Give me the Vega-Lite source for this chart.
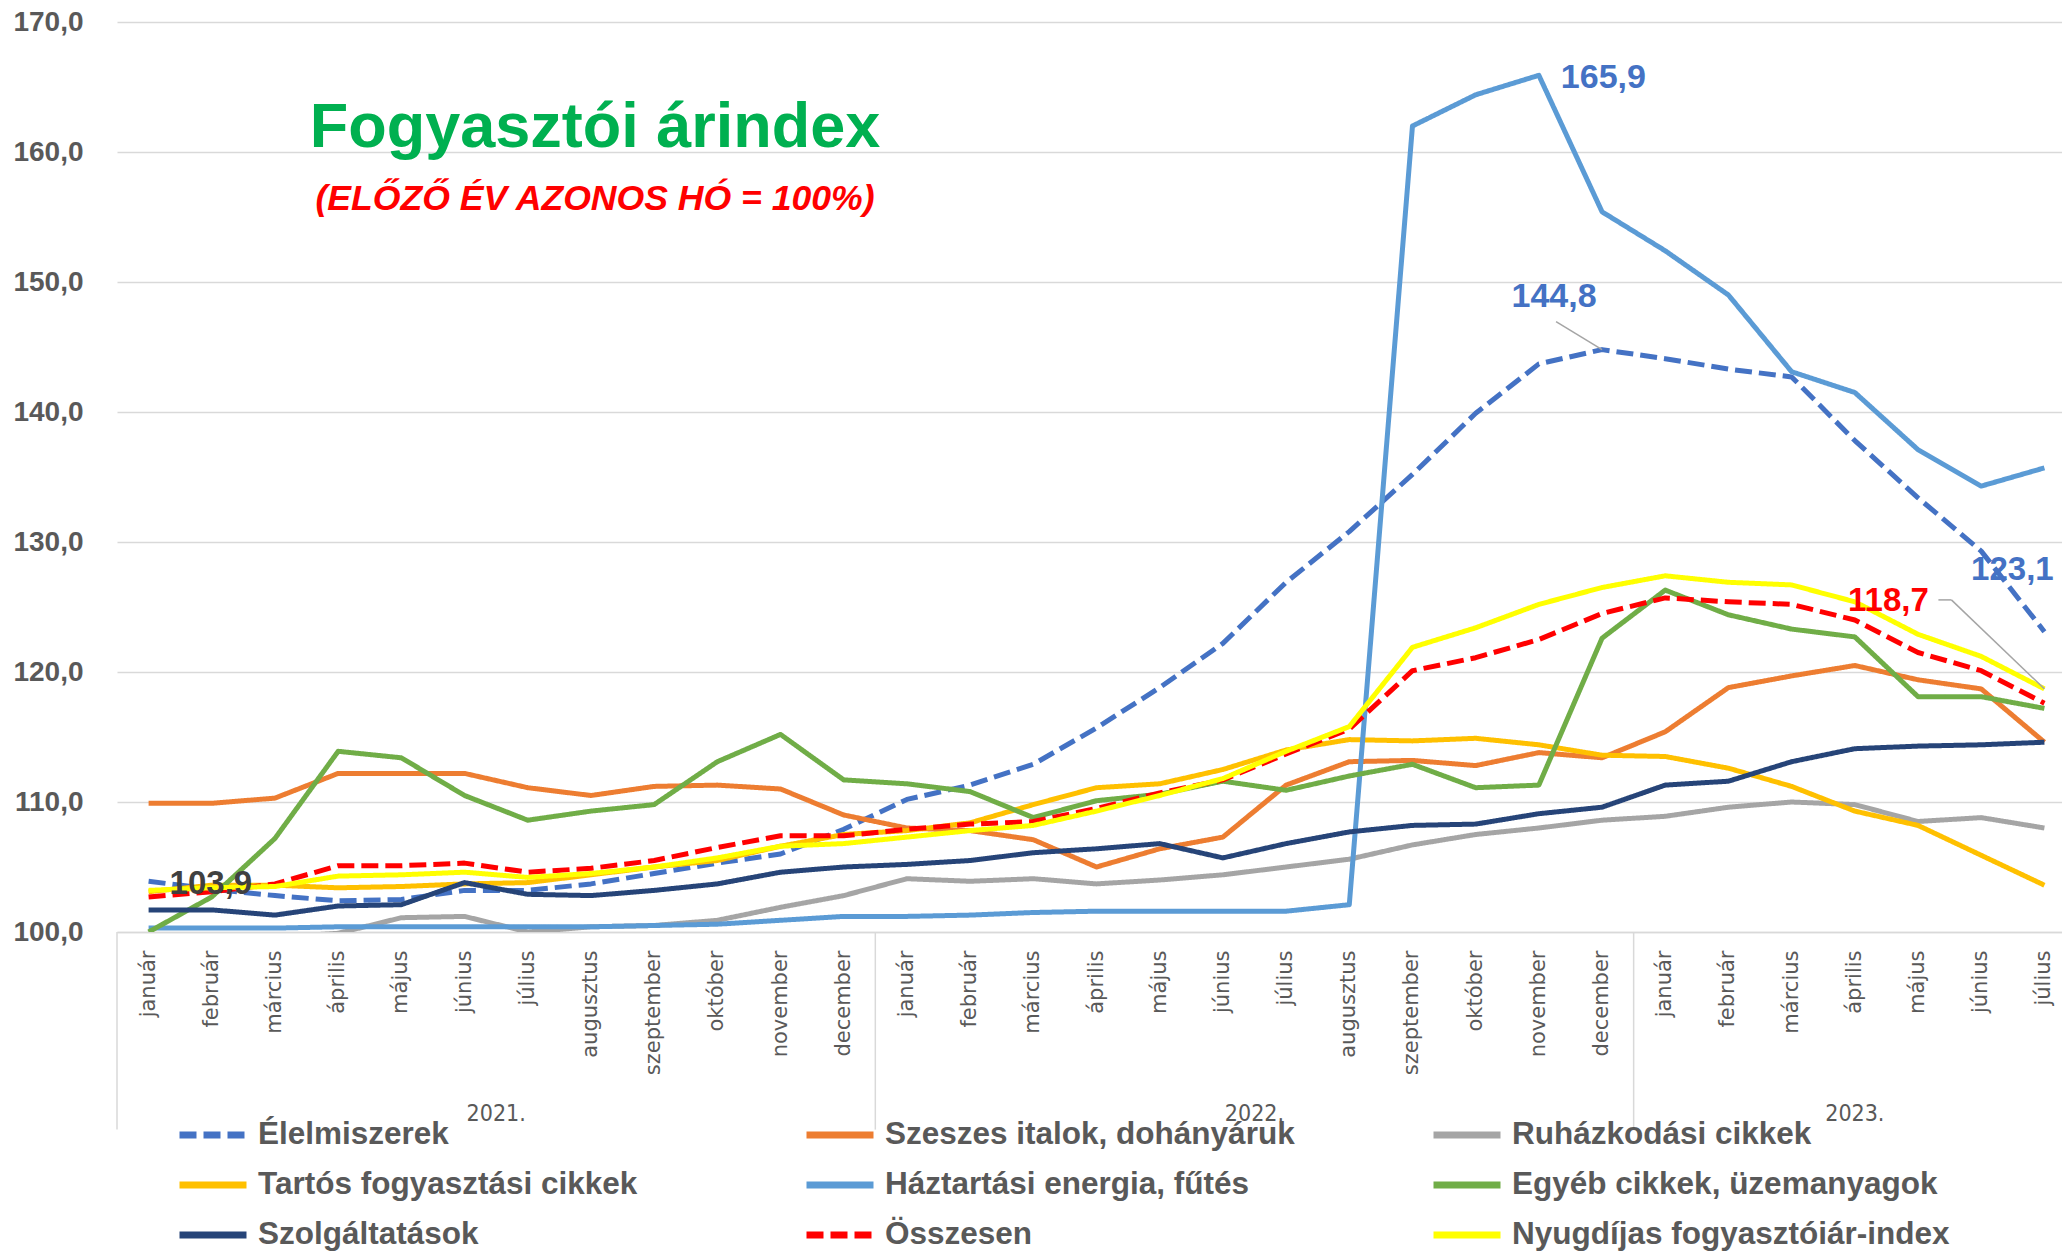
{
  "$schema": "https://vega.github.io/schema/vega-lite/v6.json",
  "width": 1945,
  "height": 910,
  "autosize": {"type": "none"},
  "padding": {"left": 117, "top": 22, "right": 0, "bottom": 321},
  "background": "white",
  "config": {
    "locale": {"number": {"decimal": ",", "thousands": " ", "grouping": [3], "currency": ["", ""]}},
    "view": {"stroke": null},
    "font": "Liberation Sans"
  },
  "title": {
    "text": "Fogyasztói árindex",
    "subtitle": "(ELŐZŐ ÉV AZONOS HÓ = 100%)",
    "orient": "top",
    "anchor": "start",
    "frame": "group",
    "align": "center",
    "dx": 478,
    "offset": -210,
    "font": "Liberation Sans",
    "fontSize": 63,
    "fontWeight": "bold",
    "color": "#00B050",
    "subtitleFont": "Liberation Sans",
    "subtitleFontSize": 35.6,
    "subtitleFontWeight": "bold",
    "subtitleFontStyle": "italic",
    "subtitleColor": "#FF0000",
    "subtitlePadding": 22
  },
  "datasets": {
    "cpi": [
      {"m": "2021-01", "Élelmiszerek": 103.9, "Szeszes italok, dohányáruk": 109.9, "Ruházkodási cikkek": 99.4, "Tartós fogyasztási cikkek": 103.1, "Háztartási energia, fűtés": 100.3, "Egyéb cikkek, üzemanyagok": 100.0, "Szolgáltatások": 101.7, "Összesen": 102.7, "Nyugdíjas fogyasztóiár-index": 103.2},
      {"m": "2021-02", "Élelmiszerek": 103.3, "Szeszes italok, dohányáruk": 109.9, "Ruházkodási cikkek": 99.5, "Tartós fogyasztási cikkek": 103.6, "Háztartási energia, fűtés": 100.3, "Egyéb cikkek, üzemanyagok": 102.7, "Szolgáltatások": 101.7, "Összesen": 103.1, "Nyugdíjas fogyasztóiár-index": 103.4},
      {"m": "2021-03", "Élelmiszerek": 102.8, "Szeszes italok, dohányáruk": 110.3, "Ruházkodási cikkek": 99.6, "Tartós fogyasztási cikkek": 103.6, "Háztartási energia, fűtés": 100.3, "Egyéb cikkek, üzemanyagok": 107.2, "Szolgáltatások": 101.3, "Összesen": 103.7, "Nyugdíjas fogyasztóiár-index": 103.5},
      {"m": "2021-04", "Élelmiszerek": 102.4, "Szeszes italok, dohányáruk": 112.2, "Ruházkodási cikkek": 99.9, "Tartós fogyasztási cikkek": 103.4, "Háztartási energia, fűtés": 100.4, "Egyéb cikkek, üzemanyagok": 113.9, "Szolgáltatások": 102.0, "Összesen": 105.1, "Nyugdíjas fogyasztóiár-index": 104.3},
      {"m": "2021-05", "Élelmiszerek": 102.5, "Szeszes italok, dohányáruk": 112.2, "Ruházkodási cikkek": 101.1, "Tartós fogyasztási cikkek": 103.5, "Háztartási energia, fűtés": 100.4, "Egyéb cikkek, üzemanyagok": 113.4, "Szolgáltatások": 102.1, "Összesen": 105.1, "Nyugdíjas fogyasztóiár-index": 104.4},
      {"m": "2021-06", "Élelmiszerek": 103.2, "Szeszes italok, dohányáruk": 112.2, "Ruházkodási cikkek": 101.2, "Tartós fogyasztási cikkek": 103.7, "Háztartási energia, fűtés": 100.4, "Egyéb cikkek, üzemanyagok": 110.5, "Szolgáltatások": 103.8, "Összesen": 105.3, "Nyugdíjas fogyasztóiár-index": 104.6},
      {"m": "2021-07", "Élelmiszerek": 103.2, "Szeszes italok, dohányáruk": 111.1, "Ruházkodási cikkek": 100.0, "Tartós fogyasztási cikkek": 103.8, "Háztartási energia, fűtés": 100.4, "Egyéb cikkek, üzemanyagok": 108.6, "Szolgáltatások": 102.9, "Összesen": 104.6, "Nyugdíjas fogyasztóiár-index": 104.2},
      {"m": "2021-08", "Élelmiszerek": 103.7, "Szeszes italok, dohányáruk": 110.5, "Ruházkodási cikkek": 100.4, "Tartós fogyasztási cikkek": 104.4, "Háztartási energia, fűtés": 100.4, "Egyéb cikkek, üzemanyagok": 109.3, "Szolgáltatások": 102.8, "Összesen": 104.9, "Nyugdíjas fogyasztóiár-index": 104.5},
      {"m": "2021-09", "Élelmiszerek": 104.5, "Szeszes italok, dohányáruk": 111.2, "Ruházkodási cikkek": 100.5, "Tartós fogyasztási cikkek": 105.0, "Háztartási energia, fűtés": 100.5, "Egyéb cikkek, üzemanyagok": 109.8, "Szolgáltatások": 103.2, "Összesen": 105.5, "Nyugdíjas fogyasztóiár-index": 105.0},
      {"m": "2021-10", "Élelmiszerek": 105.3, "Szeszes italok, dohányáruk": 111.3, "Ruházkodási cikkek": 100.9, "Tartós fogyasztási cikkek": 105.5, "Háztartási energia, fűtés": 100.6, "Egyéb cikkek, üzemanyagok": 113.1, "Szolgáltatások": 103.7, "Összesen": 106.5, "Nyugdíjas fogyasztóiár-index": 105.7},
      {"m": "2021-11", "Élelmiszerek": 106.0, "Szeszes italok, dohányáruk": 111.0, "Ruházkodási cikkek": 101.9, "Tartós fogyasztási cikkek": 106.6, "Háztartási energia, fűtés": 100.9, "Egyéb cikkek, üzemanyagok": 115.2, "Szolgáltatások": 104.6, "Összesen": 107.4, "Nyugdíjas fogyasztóiár-index": 106.6},
      {"m": "2021-12", "Élelmiszerek": 107.9, "Szeszes italok, dohányáruk": 109.0, "Ruházkodási cikkek": 102.8, "Tartós fogyasztási cikkek": 107.5, "Háztartási energia, fűtés": 101.2, "Egyéb cikkek, üzemanyagok": 111.7, "Szolgáltatások": 105.0, "Összesen": 107.4, "Nyugdíjas fogyasztóiár-index": 106.8},
      {"m": "2022-01", "Élelmiszerek": 110.2, "Szeszes italok, dohányáruk": 108.0, "Ruházkodási cikkek": 104.1, "Tartós fogyasztási cikkek": 107.8, "Háztartási energia, fűtés": 101.2, "Egyéb cikkek, üzemanyagok": 111.4, "Szolgáltatások": 105.2, "Összesen": 107.9, "Nyugdíjas fogyasztóiár-index": 107.3},
      {"m": "2022-02", "Élelmiszerek": 111.3, "Szeszes italok, dohányáruk": 107.8, "Ruházkodási cikkek": 103.9, "Tartós fogyasztási cikkek": 108.4, "Háztartási energia, fűtés": 101.3, "Egyéb cikkek, üzemanyagok": 110.8, "Szolgáltatások": 105.5, "Összesen": 108.3, "Nyugdíjas fogyasztóiár-index": 107.8},
      {"m": "2022-03", "Élelmiszerek": 112.9, "Szeszes italok, dohányáruk": 107.1, "Ruházkodási cikkek": 104.1, "Tartós fogyasztási cikkek": 109.8, "Háztartási energia, fűtés": 101.5, "Egyéb cikkek, üzemanyagok": 108.8, "Szolgáltatások": 106.1, "Összesen": 108.5, "Nyugdíjas fogyasztóiár-index": 108.2},
      {"m": "2022-04", "Élelmiszerek": 115.7, "Szeszes italok, dohányáruk": 105.0, "Ruházkodási cikkek": 103.7, "Tartós fogyasztási cikkek": 111.1, "Háztartási energia, fűtés": 101.6, "Egyéb cikkek, üzemanyagok": 110.1, "Szolgáltatások": 106.4, "Összesen": 109.5, "Nyugdíjas fogyasztóiár-index": 109.3},
      {"m": "2022-05", "Élelmiszerek": 118.8, "Szeszes italok, dohányáruk": 106.4, "Ruházkodási cikkek": 104.0, "Tartós fogyasztási cikkek": 111.4, "Háztartási energia, fűtés": 101.6, "Egyéb cikkek, üzemanyagok": 110.6, "Szolgáltatások": 106.8, "Összesen": 110.7, "Nyugdíjas fogyasztóiár-index": 110.5},
      {"m": "2022-06", "Élelmiszerek": 122.2, "Szeszes italok, dohányáruk": 107.3, "Ruházkodási cikkek": 104.4, "Tartós fogyasztási cikkek": 112.5, "Háztartási energia, fűtés": 101.6, "Egyéb cikkek, üzemanyagok": 111.6, "Szolgáltatások": 105.7, "Összesen": 111.7, "Nyugdíjas fogyasztóiár-index": 111.8},
      {"m": "2022-07", "Élelmiszerek": 126.9, "Szeszes italok, dohányáruk": 111.3, "Ruházkodási cikkek": 105.0, "Tartós fogyasztási cikkek": 114.0, "Háztartási energia, fűtés": 101.6, "Egyéb cikkek, üzemanyagok": 110.9, "Szolgáltatások": 106.8, "Összesen": 113.7, "Nyugdíjas fogyasztóiár-index": 113.9},
      {"m": "2022-08", "Élelmiszerek": 130.8, "Szeszes italok, dohányáruk": 113.1, "Ruházkodási cikkek": 105.6, "Tartós fogyasztási cikkek": 114.8, "Háztartási energia, fűtés": 102.1, "Egyéb cikkek, üzemanyagok": 112.0, "Szolgáltatások": 107.7, "Összesen": 115.6, "Nyugdíjas fogyasztóiár-index": 115.8},
      {"m": "2022-09", "Élelmiszerek": 135.2, "Szeszes italok, dohányáruk": 113.2, "Ruházkodási cikkek": 106.7, "Tartós fogyasztási cikkek": 114.7, "Háztartási energia, fűtés": 162.0, "Egyéb cikkek, üzemanyagok": 112.9, "Szolgáltatások": 108.2, "Összesen": 120.1, "Nyugdíjas fogyasztóiár-index": 121.9},
      {"m": "2022-10", "Élelmiszerek": 139.9, "Szeszes italok, dohányáruk": 112.8, "Ruházkodási cikkek": 107.5, "Tartós fogyasztási cikkek": 114.9, "Háztartási energia, fűtés": 164.4, "Egyéb cikkek, üzemanyagok": 111.1, "Szolgáltatások": 108.3, "Összesen": 121.1, "Nyugdíjas fogyasztóiár-index": 123.4},
      {"m": "2022-11", "Élelmiszerek": 143.7, "Szeszes italok, dohányáruk": 113.8, "Ruházkodási cikkek": 108.0, "Tartós fogyasztási cikkek": 114.4, "Háztartási energia, fűtés": 165.9, "Egyéb cikkek, üzemanyagok": 111.3, "Szolgáltatások": 109.1, "Összesen": 122.5, "Nyugdíjas fogyasztóiár-index": 125.2},
      {"m": "2022-12", "Élelmiszerek": 144.8, "Szeszes italok, dohányáruk": 113.4, "Ruházkodási cikkek": 108.6, "Tartós fogyasztási cikkek": 113.6, "Háztartási energia, fűtés": 155.4, "Egyéb cikkek, üzemanyagok": 122.6, "Szolgáltatások": 109.6, "Összesen": 124.5, "Nyugdíjas fogyasztóiár-index": 126.5},
      {"m": "2023-01", "Élelmiszerek": 144.1, "Szeszes italok, dohányáruk": 115.4, "Ruházkodási cikkek": 108.9, "Tartós fogyasztási cikkek": 113.5, "Háztartási energia, fűtés": 152.4, "Egyéb cikkek, üzemanyagok": 126.3, "Szolgáltatások": 111.3, "Összesen": 125.7, "Nyugdíjas fogyasztóiár-index": 127.4},
      {"m": "2023-02", "Élelmiszerek": 143.3, "Szeszes italok, dohányáruk": 118.8, "Ruházkodási cikkek": 109.6, "Tartós fogyasztási cikkek": 112.6, "Háztartási energia, fűtés": 149.0, "Egyéb cikkek, üzemanyagok": 124.4, "Szolgáltatások": 111.6, "Összesen": 125.4, "Nyugdíjas fogyasztóiár-index": 126.9},
      {"m": "2023-03", "Élelmiszerek": 142.7, "Szeszes italok, dohányáruk": 119.7, "Ruházkodási cikkek": 110.0, "Tartós fogyasztási cikkek": 111.2, "Háztartási energia, fűtés": 143.1, "Egyéb cikkek, üzemanyagok": 123.3, "Szolgáltatások": 113.1, "Összesen": 125.2, "Nyugdíjas fogyasztóiár-index": 126.7},
      {"m": "2023-04", "Élelmiszerek": 137.8, "Szeszes italok, dohányáruk": 120.5, "Ruházkodási cikkek": 109.8, "Tartós fogyasztási cikkek": 109.3, "Háztartási energia, fűtés": 141.5, "Egyéb cikkek, üzemanyagok": 122.7, "Szolgáltatások": 114.1, "Összesen": 124.0, "Nyugdíjas fogyasztóiár-index": 125.4},
      {"m": "2023-05", "Élelmiszerek": 133.4, "Szeszes italok, dohányáruk": 119.4, "Ruházkodási cikkek": 108.5, "Tartós fogyasztási cikkek": 108.2, "Háztartási energia, fűtés": 137.1, "Egyéb cikkek, üzemanyagok": 118.1, "Szolgáltatások": 114.3, "Összesen": 121.5, "Nyugdíjas fogyasztóiár-index": 122.9},
      {"m": "2023-06", "Élelmiszerek": 129.3, "Szeszes italok, dohányáruk": 118.7, "Ruházkodási cikkek": 108.8, "Tartós fogyasztási cikkek": 105.9, "Háztartási energia, fűtés": 134.3, "Egyéb cikkek, üzemanyagok": 118.1, "Szolgáltatások": 114.4, "Összesen": 120.1, "Nyugdíjas fogyasztóiár-index": 121.2},
      {"m": "2023-07", "Élelmiszerek": 123.1, "Szeszes italok, dohányáruk": 114.6, "Ruházkodási cikkek": 108.0, "Tartós fogyasztási cikkek": 103.6, "Háztartási energia, fűtés": 135.7, "Egyéb cikkek, üzemanyagok": 117.2, "Szolgáltatások": 114.6, "Összesen": 117.6, "Nyugdíjas fogyasztóiár-index": 118.7}
    ],
    "separators": [{"m": "2021-01"}, {"m": "2022-01"}, {"m": "2023-01"}],
    "years12": [{"m": "2021-07", "ev": "2021."}, {"m": "2022-07", "ev": "2022."}],
    "years7": [{"m": "2023-04", "ev": "2023."}]
  },
  "layer": [
    {
      "data": {"name": "separators"},
      "mark": {"type": "rule", "color": "#D9D9D9", "strokeWidth": 1.5, "clip": false},
      "encoding": {
        "x": {"field": "m", "type": "ordinal", "bandPosition": 0},
        "y": {"datum": 100},
        "y2": {"datum": 84.8}
      }
    },
    {
      "data": {"name": "cpi"},
      "transform": [{"fold": ["Élelmiszerek", "Szeszes italok, dohányáruk", "Ruházkodási cikkek", "Tartós fogyasztási cikkek", "Háztartási energia, fűtés", "Egyéb cikkek, üzemanyagok", "Szolgáltatások", "Összesen", "Nyugdíjas fogyasztóiár-index"], "as": ["series", "value"]}],
      "mark": {"type": "line", "strokeWidth": 5, "clip": true, "strokeJoin": "round"},
      "encoding": {
        "x": {
          "field": "m", "type": "ordinal",
          "scale": {"type": "band", "range": [0, 1959], "paddingInner": 0, "paddingOuter": 0},
          "axis": {
            "title": null,
            "labelExpr": "['január','február','március','április','május','június','július','augusztus','szeptember','október','november','december'][toNumber(substring(datum.value,5,7))-1]",
            "labelAngle": -90,
            "ticks": false,
            "labelPadding": 18,
            "labelFont": "DejaVu Sans",
            "labelFontSize": 21,
            "labelColor": "#595959",
            "domainColor": "#D9D9D9",
            "domainWidth": 1.5,
            "grid": false,
            "labelOverlap": false
          }
        },
        "y": {
          "field": "value", "type": "quantitative",
          "scale": {"domain": [100, 170], "nice": false, "zero": false},
          "axis": {
            "title": null,
            "values": [100, 110, 120, 130, 140, 150, 160, 170],
            "format": ".1f",
            "domain": false,
            "ticks": false,
            "grid": true,
            "gridColor": "#D9D9D9",
            "gridWidth": 1.5,
            "labelFont": "Liberation Sans",
            "labelFontSize": 28,
            "labelFontWeight": "bold",
            "labelColor": "#595959",
            "labelPadding": 34
          }
        },
        "color": {
          "field": "series", "type": "nominal",
          "scale": {
            "domain": ["Élelmiszerek", "Szeszes italok, dohányáruk", "Ruházkodási cikkek", "Tartós fogyasztási cikkek", "Háztartási energia, fűtés", "Egyéb cikkek, üzemanyagok", "Szolgáltatások", "Összesen", "Nyugdíjas fogyasztóiár-index"],
            "range": ["#4472C4", "#ED7D31", "#A5A5A5", "#FFC000", "#5B9BD5", "#70AD47", "#264478", "#FF0000", "#FFFF00"]
          },
          "legend": {
            "orient": "none", "legendX": 59, "legendY": 1088, "columns": 3, "direction": "horizontal", "title": null,
            "symbolType": "stroke", "symbolSize": 4489, "symbolStrokeWidth": 7,
            "labelFont": "Liberation Sans", "labelFontSize": 31.5, "labelFontWeight": "bold", "labelColor": "#595959",
            "labelOffset": 8, "columnPadding": 107, "rowPadding": 0, "clipHeight": 50, "gridAlign": "all", "labelLimit": 0, "padding": 0
          }
        },
        "strokeDash": {
          "field": "series", "type": "nominal",
          "scale": {
            "domain": ["Élelmiszerek", "Szeszes italok, dohányáruk", "Ruházkodási cikkek", "Tartós fogyasztási cikkek", "Háztartási energia, fűtés", "Egyéb cikkek, üzemanyagok", "Szolgáltatások", "Összesen", "Nyugdíjas fogyasztóiár-index"],
            "range": [[17, 7], [1, 0], [1, 0], [1, 0], [1, 0], [1, 0], [1, 0], [17, 7], [1, 0]]
          },
          "legend": {
            "orient": "none", "legendX": 59, "legendY": 1088, "columns": 3, "direction": "horizontal", "title": null,
            "symbolType": "stroke", "symbolSize": 4489, "symbolStrokeWidth": 7,
            "labelFont": "Liberation Sans", "labelFontSize": 31.5, "labelFontWeight": "bold", "labelColor": "#595959",
            "labelOffset": 8, "columnPadding": 107, "rowPadding": 0, "clipHeight": 50, "gridAlign": "all", "labelLimit": 0, "padding": 0
          }
        }
      }
    },
    {
      "data": {"name": "cpi"},
      "transform": [{"fold": ["Élelmiszerek"], "as": ["series", "value"]}, {"filter": "datum.m == '2022-12'"}],
      "mark": {"type": "rule", "color": "#A5A5A5", "strokeWidth": 1.5, "x2Offset": -46, "y2Offset": -28},
      "encoding": {
        "x": {"field": "m", "type": "ordinal"},
        "y": {"field": "value", "type": "quantitative"},
        "x2": {"field": "m"},
        "y2": {"field": "value"}
      }
    },
    {
      "data": {"name": "cpi"},
      "transform": [{"fold": ["Nyugdíjas fogyasztóiár-index"], "as": ["series", "value"]}, {"filter": "datum.m == '2023-07'"}],
      "mark": {"type": "rule", "color": "#A5A5A5", "strokeWidth": 1.5, "x2Offset": -93, "y2Offset": -89},
      "encoding": {
        "x": {"field": "m", "type": "ordinal"},
        "y": {"field": "value", "type": "quantitative"},
        "x2": {"field": "m"},
        "y2": {"field": "value"}
      }
    },
    {
      "data": {"name": "cpi"},
      "transform": [{"fold": ["Nyugdíjas fogyasztóiár-index"], "as": ["series", "value"]}, {"filter": "datum.m == '2023-07'"}],
      "mark": {"type": "rule", "color": "#A5A5A5", "strokeWidth": 1.5, "xOffset": -93, "yOffset": -89, "x2Offset": -106, "y2Offset": -89},
      "encoding": {
        "x": {"field": "m", "type": "ordinal"},
        "y": {"field": "value", "type": "quantitative"},
        "x2": {"field": "m"},
        "y2": {"field": "value"}
      }
    },
    {
      "data": {"name": "cpi"},
      "transform": [{"fold": ["Háztartási energia, fűtés"], "as": ["series", "value"]}, {"filter": "datum.m == '2022-11'"}],
      "mark": {"type": "text", "align": "left", "baseline": "middle", "dx": 22, "dy": 3, "font": "Liberation Sans", "fontSize": 34, "fontWeight": "bold", "color": "#4472C4"},
      "encoding": {
        "x": {"field": "m", "type": "ordinal"},
        "y": {"field": "value", "type": "quantitative"},
        "text": {"field": "value", "type": "quantitative", "format": ".1f"}
      }
    },
    {
      "data": {"name": "cpi"},
      "transform": [{"fold": ["Élelmiszerek"], "as": ["series", "value"]}, {"filter": "datum.m == '2022-12'"}],
      "mark": {"type": "text", "align": "center", "baseline": "middle", "dx": -48, "dy": -53, "font": "Liberation Sans", "fontSize": 34, "fontWeight": "bold", "color": "#4472C4"},
      "encoding": {
        "x": {"field": "m", "type": "ordinal"},
        "y": {"field": "value", "type": "quantitative"},
        "text": {"field": "value", "type": "quantitative", "format": ".1f"}
      }
    },
    {
      "data": {"name": "cpi"},
      "transform": [{"fold": ["Élelmiszerek"], "as": ["series", "value"]}, {"filter": "datum.m == '2023-07'"}],
      "mark": {"type": "text", "align": "center", "baseline": "middle", "dx": -32, "dy": -62, "font": "Liberation Sans", "fontSize": 33, "fontWeight": "bold", "color": "#4472C4"},
      "encoding": {
        "x": {"field": "m", "type": "ordinal"},
        "y": {"field": "value", "type": "quantitative"},
        "text": {"field": "value", "type": "quantitative", "format": ".1f"}
      }
    },
    {
      "data": {"name": "cpi"},
      "transform": [{"fold": ["Nyugdíjas fogyasztóiár-index"], "as": ["series", "value"]}, {"filter": "datum.m == '2023-07'"}],
      "mark": {"type": "text", "align": "center", "baseline": "middle", "dx": -156, "dy": -88, "font": "Liberation Sans", "fontSize": 33, "fontWeight": "bold", "color": "#FF0000"},
      "encoding": {
        "x": {"field": "m", "type": "ordinal"},
        "y": {"field": "value", "type": "quantitative"},
        "text": {"field": "value", "type": "quantitative", "format": ".1f"}
      }
    },
    {
      "data": {"name": "cpi"},
      "transform": [{"fold": ["Élelmiszerek"], "as": ["series", "value"]}, {"filter": "datum.m == '2021-01'"}],
      "mark": {"type": "text", "align": "left", "baseline": "middle", "dx": 21, "dy": 3, "font": "Liberation Sans", "fontSize": 33, "fontWeight": "bold", "color": "#404040"},
      "encoding": {
        "x": {"field": "m", "type": "ordinal"},
        "y": {"field": "value", "type": "quantitative"},
        "text": {"field": "value", "type": "quantitative", "format": ".1f"}
      }
    },
    {
      "data": {"name": "years12"},
      "mark": {"type": "text", "align": "center", "baseline": "middle", "font": "DejaVu Sans Condensed", "fontSize": 23, "color": "#595959", "clip": false},
      "encoding": {
        "x": {"field": "m", "type": "ordinal", "bandPosition": 0},
        "y": {"datum": 86},
        "text": {"field": "ev"}
      }
    },
    {
      "data": {"name": "years7"},
      "mark": {"type": "text", "align": "center", "baseline": "middle", "font": "DejaVu Sans Condensed", "fontSize": 23, "color": "#595959", "clip": false},
      "encoding": {
        "x": {"field": "m", "type": "ordinal", "bandPosition": 0.5},
        "y": {"datum": 86},
        "text": {"field": "ev"}
      }
    }
  ]
}
